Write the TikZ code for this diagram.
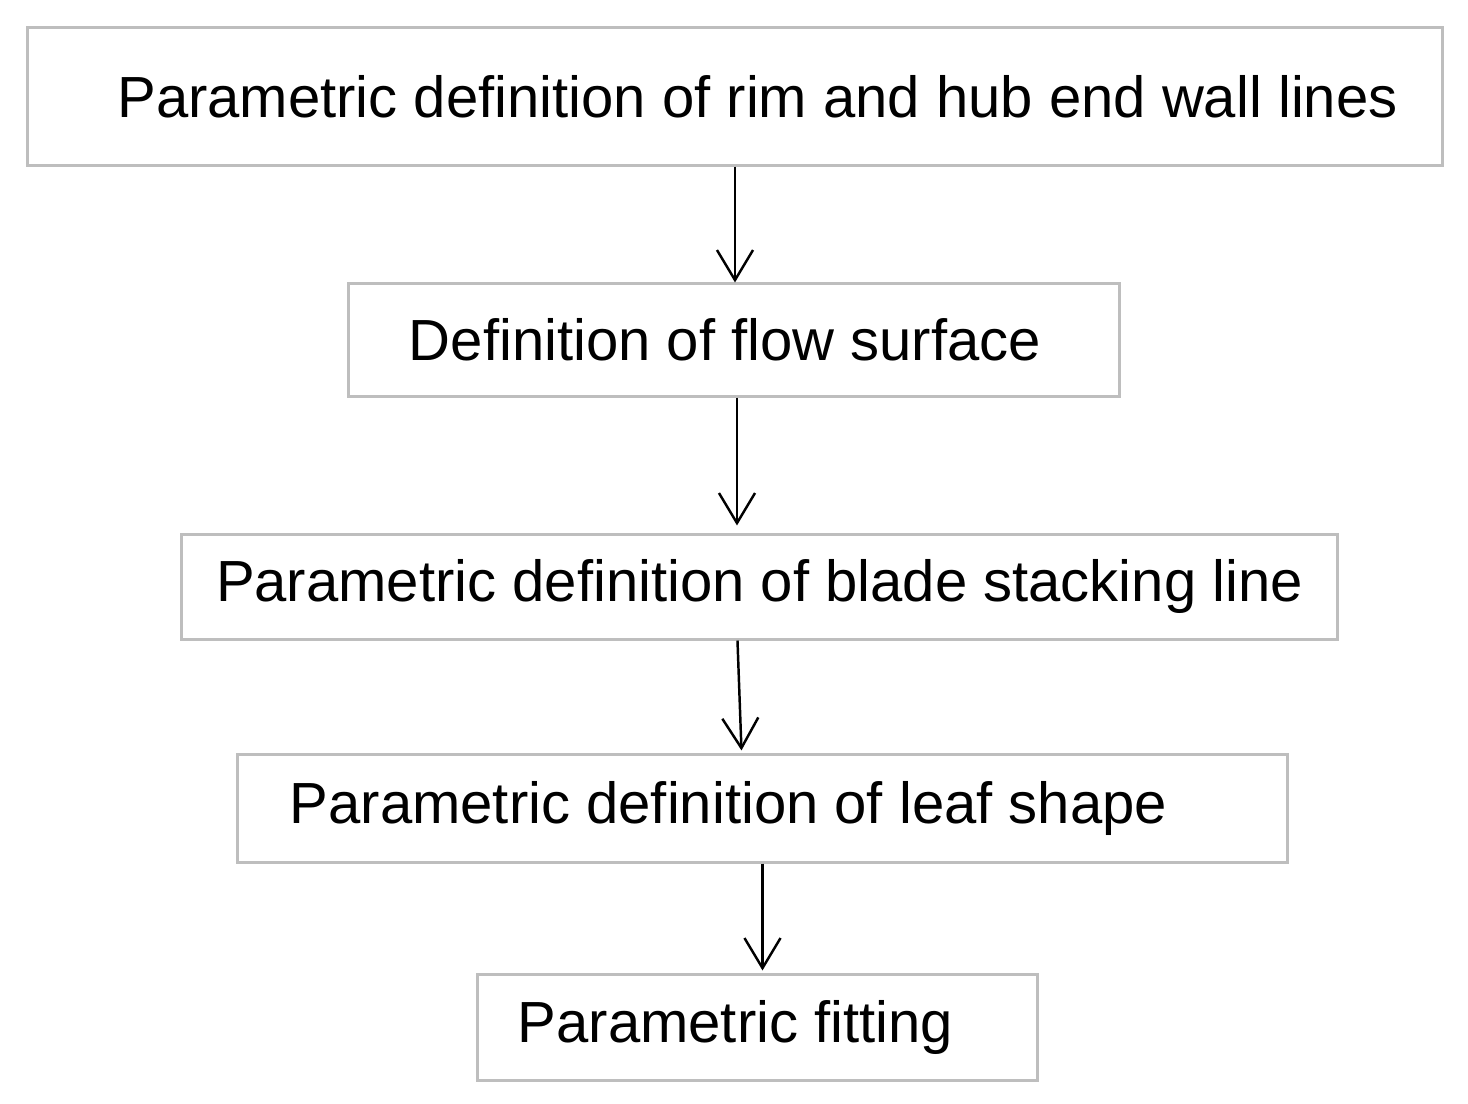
\documentclass[tikz,border=0pt]{standalone}
\usepackage{fontspec}
\setmainfont{Liberation Sans}
\usetikzlibrary{arrows.meta,positioning}
\definecolor{boxgray}{RGB}{190,190,190}
\tikzset{
  box/.style={draw=boxgray, line width=0.85pt, align=center, inner sep=3pt,
    font=\fontsize{16.5}{20}\selectfont},
  ->/.style={-{Straight Barb[length=3mm,width=3.6mm]}, line width=0.7pt}
}

\begin{document}
\begin{tikzpicture}[x=0.01cm,y=-0.01cm]
\useasboundingbox (0,0) rectangle (1468,1104);

% Steps, top to bottom
\node[box, minimum width=14.14cm, minimum height=1.37cm] (Rim) at (735,96.5)
  {\hspace*{0.45cm}Parametric definition of rim and hub end wall lines};
\node[box, minimum width=7.7cm, minimum height=1.12cm] (Flow) at (734,340)
  {Definition of flow surface\hspace*{0.18cm}};
\node[box, minimum width=11.55cm, minimum height=1.04cm] (Stack) at (759.5,587)
  {Parametric definition of blade stacking line};
\node[box, minimum width=10.49cm, minimum height=1.07cm] (Leaf) at (762.5,808.5)
  {Parametric definition of leaf shape\hspace*{0.68cm}};
\node[box, minimum width=5.59cm, minimum height=1.05cm] (Fit) at (757.5,1027.5)
  {Parametric fitting\hspace*{0.44cm}};

% Arrows
\draw[->] (Rim.south) -- (Rim.south |- Flow.north);
\draw[->] ([xshift=0.03cm]Flow.south) -- ([xshift=0.03cm,yshift=0.08cm]Flow.south |- Stack.north);
\draw[->] ([xshift=-0.22cm]Stack.south) -- ([xshift=-0.21cm,yshift=0.03cm]Leaf.north);
\draw[->] (Leaf.south) -- ([yshift=0.03cm]Leaf.south |- Fit.north);

\end{tikzpicture}
\end{document}
